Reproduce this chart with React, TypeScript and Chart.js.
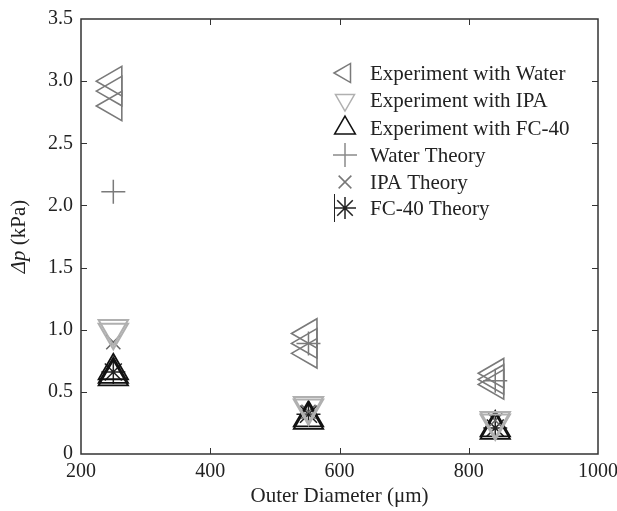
import React, { useEffect, useRef } from "react";
import { Chart, registerables } from "chart.js";
import { drawPoint } from "chart.js/helpers";

Chart.register(...registerables);

// Outer diameters (µm) of the three groups
const diameters = [250, 552, 841];

// Experiment with Water (Δp, kPa) – three runs per diameter
const waterExpX = [250, 250, 250, 552, 552, 552, 841, 841, 841];
const waterExpY = [3.0, 2.92, 2.8, 0.97, 0.89, 0.81, 0.65, 0.6, 0.56];

// Experiment with IPA
const ipaExpX = [250, 250, 552, 552, 841, 841];
const ipaExpY = [1.01, 0.98, 0.39, 0.37, 0.27, 0.25];

// Experiment with FC-40
const fcExpX = [250, 250, 250, 552, 552, 841, 841];
const fcExpY = [0.67, 0.64, 0.62, 0.29, 0.27, 0.21, 0.19];

// Theory values (one per diameter)
const waterTheory = [2.11, 0.89, 0.59];
const ipaTheory = [0.9, 0.34, 0.27];
const fcTheory = [0.66, 0.32, 0.21];

const xTicks = [200, 400, 600, 800, 1000];
const yTicks = [0, 0.5, 1.0, 1.5, 2.0, 2.5, 3.0, 3.5];

const FONT = "'Liberation Serif', 'Times New Roman', serif";

const pts = (xs: number[], ys: number[]) => xs.map((x, i) => ({ x, y: ys[i] }));

export default function App() {
  const ref = useRef<HTMLCanvasElement | null>(null);

  useEffect(() => {
    if (!ref.current) return;

    const legendItems = [
      { label: "Experiment with Water", style: "triangle", rotation: -90, radius: 11, color: "#7a7a7a" },
      { label: "Experiment with IPA", style: "triangle", rotation: 180, radius: 11, color: "#b0b0b0" },
      { label: "Experiment with FC-40", style: "triangle", rotation: 0, radius: 12, color: "#111111" },
      { label: "Water Theory", style: "cross", rotation: 0, radius: 12, color: "#8a8a8a" },
      { label: "IPA Theory", style: "crossRot", rotation: 0, radius: 9, color: "#777777" },
      { label: "FC-40 Theory", style: "star", rotation: 0, radius: 11, color: "#222222" },
    ];

    const framePlugin = {
      id: "frame",
      afterDraw(chart: any) {
        const { ctx, chartArea: a, scales } = chart;
        ctx.save();
        ctx.strokeStyle = "#333";
        ctx.lineWidth = 1.5;
        ctx.strokeRect(a.left, a.top, a.right - a.left, a.bottom - a.top);
        ctx.lineWidth = 1;
        const tl = 6;
        xTicks.slice(1, -1).forEach((v) => {
          const px = Math.round(scales.x.getPixelForValue(v)) + 0.5;
          ctx.beginPath();
          ctx.moveTo(px, a.bottom);
          ctx.lineTo(px, a.bottom - tl);
          ctx.moveTo(px, a.top);
          ctx.lineTo(px, a.top + tl);
          ctx.stroke();
        });
        yTicks.slice(1, -1).forEach((v) => {
          const py = Math.round(scales.y.getPixelForValue(v)) + 0.5;
          ctx.beginPath();
          ctx.moveTo(a.left, py);
          ctx.lineTo(a.left + tl, py);
          ctx.moveTo(a.right, py);
          ctx.lineTo(a.right - tl, py);
          ctx.stroke();
        });

        // y-axis title with italic Δp
        const cy = (a.top + a.bottom) / 2;
        ctx.translate(19, cy);
        ctx.rotate(-Math.PI / 2);
        ctx.fillStyle = "#222";
        ctx.textBaseline = "middle";
        const f1 = "italic 21px " + FONT;
        const f2 = "21px " + FONT;
        ctx.font = f1;
        const w1 = ctx.measureText("Δp").width;
        ctx.font = f2;
        const w2 = ctx.measureText(" (kPa)").width;
        const start = -(w1 + w2) / 2;
        ctx.font = f1;
        ctx.textAlign = "left";
        ctx.fillText("Δp", start, 0);
        ctx.font = f2;
        ctx.fillText(" (kPa)", start + w1, 0);
        ctx.restore();

        // legend
        ctx.save();
        const mx = 345;
        const tx = 370;
        const rows = [73, 100, 128, 155, 182, 208];
        ctx.font = "21px " + FONT;
        ctx.textBaseline = "middle";
        ctx.textAlign = "left";
        legendItems.forEach((it, i) => {
          const y = rows[i];
          ctx.strokeStyle = it.color;
          ctx.fillStyle = "rgba(0,0,0,0)";
          ctx.lineWidth = 1.5;
          drawPoint(ctx, { pointStyle: it.style, radius: it.radius, rotation: it.rotation, borderWidth: 1.5 } as any, mx, y);
          ctx.fillStyle = "#222";
          ctx.fillText(it.label, tx, y + 1);
        });
        // small vertical bar beside the FC-40 theory marker
        ctx.strokeStyle = "#222";
        ctx.lineWidth = 1;
        ctx.beginPath();
        ctx.moveTo(334.5, rows[5] - 14);
        ctx.lineTo(334.5, rows[5] + 14);
        ctx.stroke();
        ctx.restore();
      },
    };

    const chart = new Chart(ref.current, {
      type: "scatter",
      data: {
        datasets: [
          {
            label: "Experiment with Water",
            data: pts(waterExpX, waterExpY),
            pointStyle: "triangle",
            rotation: -90,
            pointRadius: 17,
            borderColor: "#7a7a7a",
            backgroundColor: "rgba(0,0,0,0)",
            pointBorderWidth: 1.6,
          },
          {
            label: "Experiment with IPA",
            data: pts(ipaExpX, ipaExpY),
            pointStyle: "triangle",
            rotation: 180,
            pointRadius: 17,
            borderColor: "#b0b0b0",
            backgroundColor: "rgba(0,0,0,0)",
            pointBorderWidth: 2,
          },
          {
            label: "Experiment with FC-40",
            data: pts(fcExpX, fcExpY),
            pointStyle: "triangle",
            rotation: 0,
            pointRadius: 17,
            borderColor: "#111111",
            backgroundColor: "rgba(0,0,0,0)",
            pointBorderWidth: 1.8,
          },
          {
            label: "Water Theory",
            data: pts(diameters, waterTheory),
            pointStyle: "cross",
            pointRadius: 12,
            borderColor: "#7a7a7a",
            backgroundColor: "rgba(0,0,0,0)",
            pointBorderWidth: 1.5,
          },
          {
            label: "IPA Theory",
            data: pts(diameters, ipaTheory),
            pointStyle: "crossRot",
            pointRadius: 10,
            borderColor: "#666666",
            backgroundColor: "rgba(0,0,0,0)",
            pointBorderWidth: 1.5,
          },
          {
            label: "FC-40 Theory",
            data: pts(diameters, fcTheory),
            pointStyle: "star",
            pointRadius: 12,
            borderColor: "#222222",
            backgroundColor: "rgba(0,0,0,0)",
            pointBorderWidth: 1.5,
          },
        ],
      },
      options: {
        responsive: false,
        animation: false,
        events: [],
        layout: { padding: { left: 0, top: 18, right: 17, bottom: 0 } },
        plugins: { legend: { display: false }, tooltip: { enabled: false } },
        scales: {
          x: {
            type: "linear",
            min: 200,
            max: 1000,
            afterBuildTicks: (s: any) => {
              s.ticks = xTicks.map((v) => ({ value: v }));
            },
            afterFit: (s: any) => {
              s.height = 57;
              s.paddingLeft = 0;
              s.paddingRight = 0;
            },
            grid: { display: false, drawTicks: false },
            border: { display: false },
            ticks: {
              font: { family: FONT, size: 20 },
              color: "#222",
              padding: 6,
              maxRotation: 0,
              callback: (v: any) => String(v),
            },
            title: {
              display: true,
              text: "Outer Diameter (μm)",
              font: { family: FONT, size: 21 },
              color: "#222",
              padding: { top: 0, bottom: 2 },
            },
          },
          y: {
            type: "linear",
            min: 0,
            max: 3.5,
            afterBuildTicks: (s: any) => {
              s.ticks = yTicks.map((v) => ({ value: v }));
            },
            afterFit: (s: any) => {
              s.width = 81;
              s.paddingTop = 0;
              s.paddingBottom = 0;
            },
            grid: { display: false, drawTicks: false },
            border: { display: false },
            ticks: {
              font: { family: FONT, size: 20 },
              color: "#222",
              padding: 8,
              callback: (v: any) => (v === 0 ? "0" : Number(v).toFixed(1)),
            },
          },
        },
      },
      plugins: [framePlugin],
    } as any);

    return () => chart.destroy();
  }, []);

  return (
    <canvas
      ref={ref}
      width={617}
      height={511}
      style={{ position: "fixed", left: 0, top: 0, width: 617, height: 511 }}
    />
  );
}
